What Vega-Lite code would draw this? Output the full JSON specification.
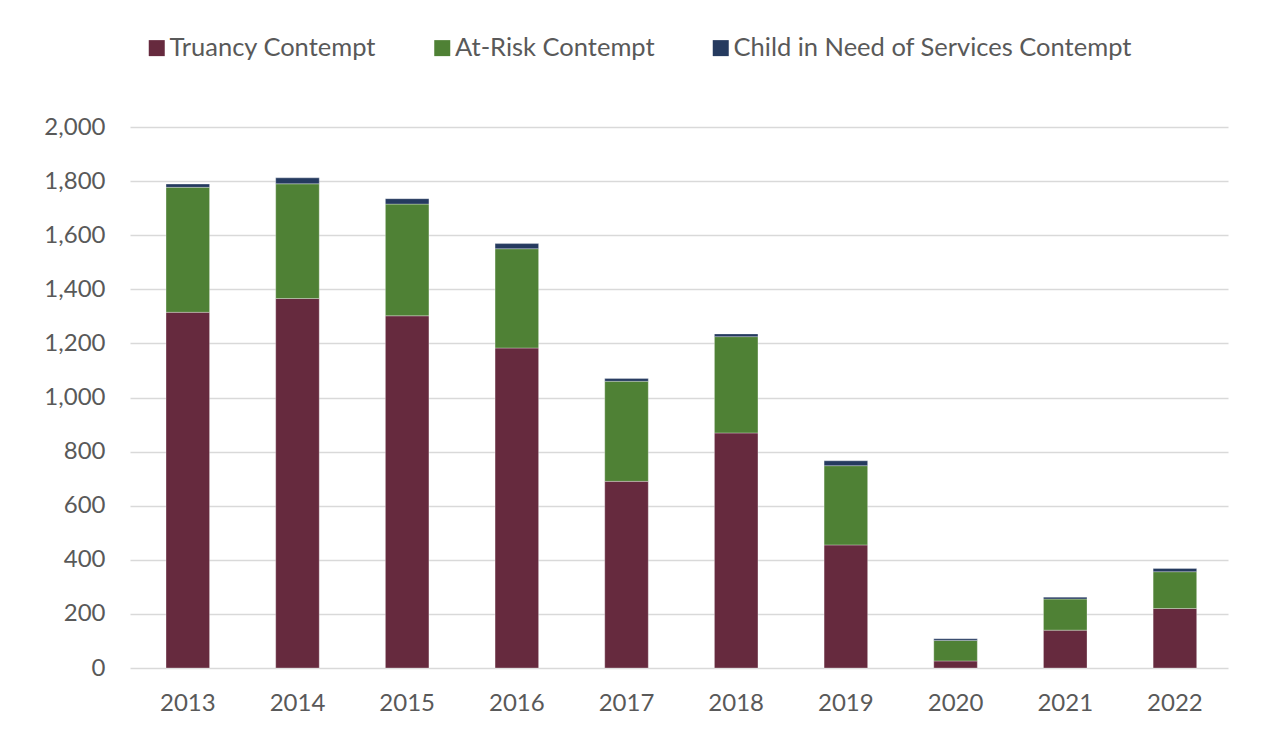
{
  "$schema": "https://vega.github.io/schema/vega-lite/v6.json",
  "autosize": "none",
  "width": 1098,
  "height": 541,
  "padding": {"left": 130, "top": 127, "right": 37, "bottom": 72},
  "background": "#ffffff",
  "data": {"values": [
    {"year": "2013", "category": "Truancy Contempt", "k": 1, "value": 1315},
    {"year": "2013", "category": "At-Risk Contempt", "k": 2, "value": 462},
    {"year": "2013", "category": "Child in Need of Services Contempt", "k": 3, "value": 12},
    {"year": "2014", "category": "Truancy Contempt", "k": 1, "value": 1366},
    {"year": "2014", "category": "At-Risk Contempt", "k": 2, "value": 424},
    {"year": "2014", "category": "Child in Need of Services Contempt", "k": 3, "value": 22},
    {"year": "2015", "category": "Truancy Contempt", "k": 1, "value": 1302},
    {"year": "2015", "category": "At-Risk Contempt", "k": 2, "value": 413},
    {"year": "2015", "category": "Child in Need of Services Contempt", "k": 3, "value": 20},
    {"year": "2016", "category": "Truancy Contempt", "k": 1, "value": 1183},
    {"year": "2016", "category": "At-Risk Contempt", "k": 2, "value": 367},
    {"year": "2016", "category": "Child in Need of Services Contempt", "k": 3, "value": 19},
    {"year": "2017", "category": "Truancy Contempt", "k": 1, "value": 690},
    {"year": "2017", "category": "At-Risk Contempt", "k": 2, "value": 370},
    {"year": "2017", "category": "Child in Need of Services Contempt", "k": 3, "value": 10},
    {"year": "2018", "category": "Truancy Contempt", "k": 1, "value": 869},
    {"year": "2018", "category": "At-Risk Contempt", "k": 2, "value": 356},
    {"year": "2018", "category": "Child in Need of Services Contempt", "k": 3, "value": 10},
    {"year": "2019", "category": "Truancy Contempt", "k": 1, "value": 455},
    {"year": "2019", "category": "At-Risk Contempt", "k": 2, "value": 293},
    {"year": "2019", "category": "Child in Need of Services Contempt", "k": 3, "value": 18},
    {"year": "2020", "category": "Truancy Contempt", "k": 1, "value": 26},
    {"year": "2020", "category": "At-Risk Contempt", "k": 2, "value": 76},
    {"year": "2020", "category": "Child in Need of Services Contempt", "k": 3, "value": 6},
    {"year": "2021", "category": "Truancy Contempt", "k": 1, "value": 140},
    {"year": "2021", "category": "At-Risk Contempt", "k": 2, "value": 115},
    {"year": "2021", "category": "Child in Need of Services Contempt", "k": 3, "value": 7},
    {"year": "2022", "category": "Truancy Contempt", "k": 1, "value": 220},
    {"year": "2022", "category": "At-Risk Contempt", "k": 2, "value": 136},
    {"year": "2022", "category": "Child in Need of Services Contempt", "k": 3, "value": 12}
  ]},
  "mark": {"type": "bar", "stroke": "#ffffff", "strokeWidth": 0.5, "strokeOpacity": 0.6},
  "encoding": {
    "x": {
      "field": "year", "type": "nominal",
      "scale": {"paddingInner": 0.603, "paddingOuter": 0.307, "align": 0.535},
      "axis": {"title": null, "labelAngle": 0, "ticks": false, "domain": false, "labelPadding": 23, "labelFontSize": 24, "labelColor": "#595959", "labelFont": "Lato"}
    },
    "y": {
      "field": "value", "type": "quantitative", "stack": "zero",
      "scale": {"domain": [0, 2000], "nice": false},
      "axis": {"title": null, "values": [0, 200, 400, 600, 800, 1000, 1200, 1400, 1600, 1800, 2000], "format": ",d", "ticks": false, "domain": false, "labelPadding": 25, "labelFontSize": 24, "labelColor": "#595959", "labelFont": "Lato", "grid": true, "gridColor": "#D9D9D9", "gridWidth": 1.5}
    },
    "color": {
      "field": "category", "type": "nominal",
      "scale": {"domain": ["Truancy Contempt", "At-Risk Contempt", "Child in Need of Services Contempt"], "range": ["#662A3E", "#4F8135", "#253A5F"]},
      "legend": {"title": null, "orient": "none", "legendX": 14, "legendY": -92, "direction": "horizontal", "symbolType": "square", "symbolSize": 256, "symbolStrokeWidth": 0, "labelFontSize": 25.5, "labelFont": "Lato", "labelColor": "#595959", "labelOffset": 0, "columnPadding": 52.5, "labelLimit": 600}
    },
    "order": {"field": "k", "type": "quantitative"}
  },
  "config": {"view": {"stroke": null}}
}
